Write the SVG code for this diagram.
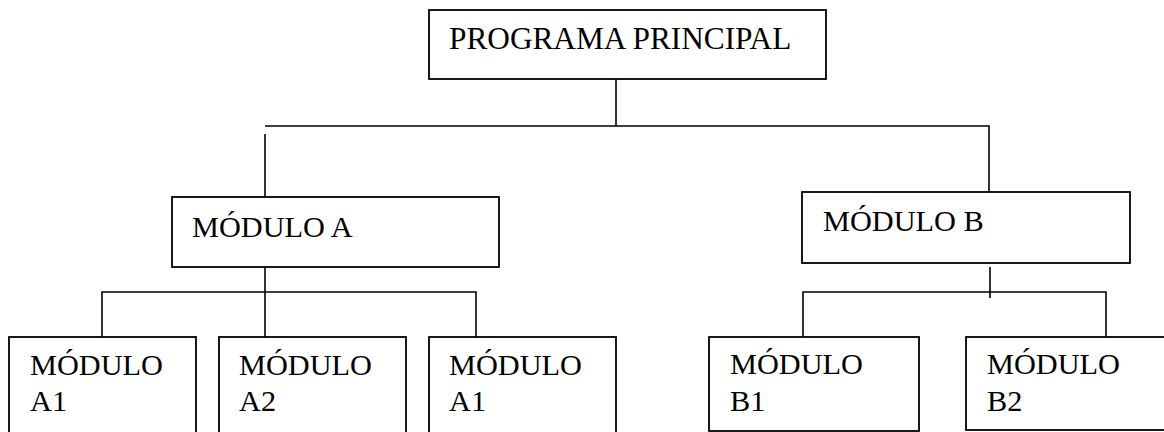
<svg xmlns="http://www.w3.org/2000/svg" width="1164" height="432" viewBox="0 0 1164 432">
  <style>
    .box { fill: #ffffff; stroke: #000000; stroke-width: 1.8; }
    .lbl { font-family: "Liberation Serif", "Times New Roman", serif; font-size: 30.3px; fill: #000000; }
    .wire { fill: none; stroke: #000000; stroke-width: 1.6; }
  </style>
  <rect width="1164" height="432" fill="#ffffff"/>

  <!-- hierarchy connectors -->
  <g id="connectors">
    <path class="wire" d="M616,79 V126 M265,126 H989 V192 M265,134 V197"/>
    <path class="wire" d="M265,267 V337 M102,337 V292 H476 V337"/>
    <path class="wire" d="M990,267 V298 M803,337 V292 H1106 V337"/>
  </g>

  <g id="programa-principal">
    <rect class="box" x="429" y="10" width="397" height="69"/>
    <text class="lbl" x="449" y="49" style="font-size:31.3px">PROGRAMA PRINCIPAL</text>
  </g>

  <g id="modulo-a">
    <rect class="box" x="172" y="197" width="327" height="70"/>
    <text class="lbl" x="192" y="237">MÓDULO A</text>
  </g>

  <g id="modulo-b">
    <rect class="box" x="802" y="192" width="328" height="71"/>
    <text class="lbl" x="823" y="231">MÓDULO B</text>
  </g>

  <g id="modulo-a1">
    <rect class="box" x="9" y="337" width="187" height="120"/>
    <text class="lbl" x="30" y="375">MÓDULO</text>
    <text class="lbl" x="30" y="411">A1</text>
  </g>

  <g id="modulo-a2">
    <rect class="box" x="219" y="337" width="187" height="120"/>
    <text class="lbl" x="239" y="375">MÓDULO</text>
    <text class="lbl" x="239" y="411">A2</text>
  </g>

  <g id="modulo-a1-bis">
    <rect class="box" x="429" y="337" width="187" height="120"/>
    <text class="lbl" x="449" y="375">MÓDULO</text>
    <text class="lbl" x="449" y="411">A1</text>
  </g>

  <g id="modulo-b1">
    <rect class="box" x="709" y="337" width="210" height="94"/>
    <text class="lbl" x="730" y="374">MÓDULO</text>
    <text class="lbl" x="730" y="411">B1</text>
  </g>

  <g id="modulo-b2">
    <rect class="box" x="966" y="337" width="220" height="93"/>
    <text class="lbl" x="987" y="374">MÓDULO</text>
    <text class="lbl" x="987" y="411">B2</text>
  </g>
</svg>
